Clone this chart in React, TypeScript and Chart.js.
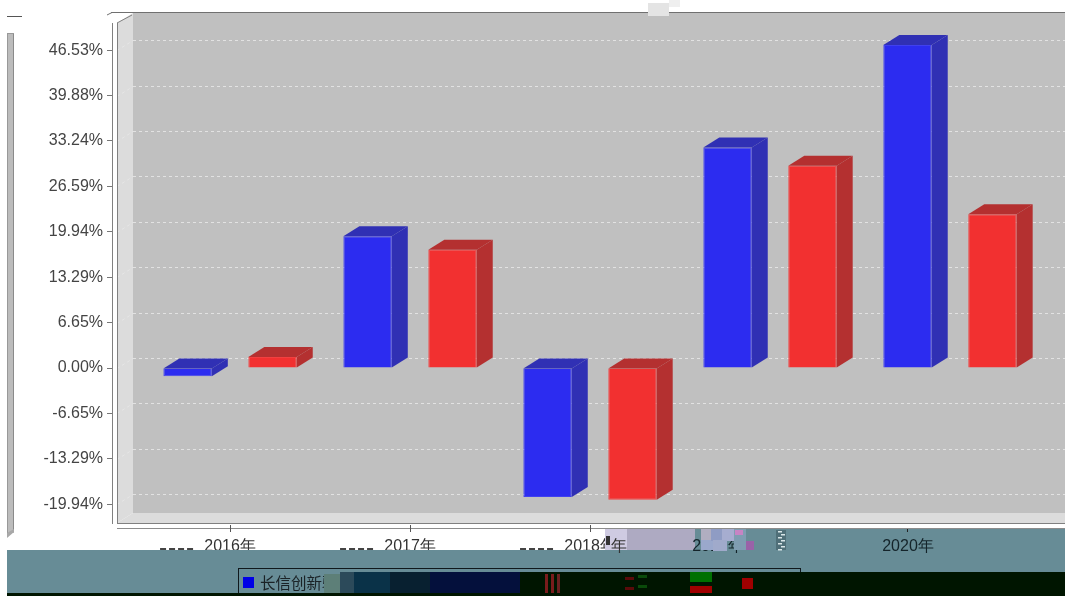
import React, { useEffect, useRef } from "react";
import { Chart, registerables } from "chart.js";

Chart.register(...registerables);

const years = [2016, 2017, 2018, 2019, 2020];
const fundLabel = "长信创新驱动";
const benchLabel = "业绩比较基准";
const fundValues = [-1.2, 19.3, -18.9, 32.3, 47.3];
const benchValues = [1.6, 17.3, -19.3, 29.6, 22.5];
const yTicks = [46.53, 39.88, 33.24, 26.59, 19.94, 13.29, 6.65, 0, -6.65, -13.29, -19.94];

const DX = 16;
const DY = -10;
const FONT = '16px "Liberation Sans", Arial, sans-serif';

function poly(ctx: CanvasRenderingContext2D, pts: number[][], fill: string) {
  ctx.fillStyle = fill;
  ctx.beginPath();
  pts.forEach((p, i) => (i ? ctx.lineTo(p[0], p[1]) : ctx.moveTo(p[0], p[1])));
  ctx.closePath();
  ctx.fill();
}
function rect(ctx: CanvasRenderingContext2D, x: number, y: number, w: number, h: number, c: string) {
  ctx.fillStyle = c;
  ctx.fillRect(x, y, w, h);
}
function seg(ctx: CanvasRenderingContext2D, x1: number, y1: number, x2: number, y2: number, c: string, w = 1) {
  ctx.strokeStyle = c;
  ctx.lineWidth = w;
  ctx.beginPath();
  ctx.moveTo(x1, y1);
  ctx.lineTo(x2, y2);
  ctx.stroke();
}

const box3d = {
  id: "box3d",
  beforeDatasetsDraw(chart: any) {
    const { ctx, chartArea: a, scales } = chart;
    const L = 117;
    const R = a.right;
    const T = a.top;
    const B = a.bottom;
    ctx.save();
    rect(ctx, L + 16, 13, R - L - 16, B - 10 - 13, "#c0c0c0");
    poly(ctx, [[L, T], [L + 16, 13], [L + 16, B - 10], [L, B]], "#dcdcdc");
    poly(ctx, [[L, B], [L + 16, B - 10], [R, B - 10], [R, B]], "#dcdcdc");
    ctx.setLineDash([3, 3]);
    yTicks.forEach((v) => {
      const y = Math.round(scales.y.getPixelForValue(v)) + 0.5;
      seg(ctx, L + 16, y - 10, R, y - 10, "#e2e2e2");
      seg(ctx, L, y, L + 16, y - 10, "#e6e6e6");
    });
    ctx.setLineDash([]);
    seg(ctx, L + 0.5, T, L + 0.5, B, "#808080");
    seg(ctx, L, T, L + 15, 15, "#808080");
    seg(ctx, L, B + 0.5, R, B + 0.5, "#808080");
    seg(ctx, 107, 15, 112, 12.5, "#707070");
    seg(ctx, 111, 12.5, R, 12.5, "#707070");
    ctx.restore();
  },
  afterDatasetsDraw(chart: any) {
    const { ctx } = chart;
    ctx.save();
    chart.data.datasets.forEach((ds: any, i: number) => {
      chart.getDatasetMeta(i).data.forEach((bar: any) => {
        const { x, y, base, width } = bar.getProps(["x", "y", "base", "width"], true);
        const l = x - width / 2;
        const r = x + width / 2;
        const top = Math.min(y, base);
        const bot = Math.max(y, base);
        poly(ctx, [[l, top], [l + DX, top + DY], [r + DX, top + DY], [r, top]], ds.depthColor);
        poly(ctx, [[r, top], [r + DX, top + DY], [r + DX, bot + DY], [r, bot]], ds.depthColor);
      });
    });
    ctx.restore();
  },
  afterDraw(chart: any) {
    const { ctx, chartArea: a, scales } = chart;
    const R = a.right;
    const xs = scales.x;
    ctx.save();
    // left fragment and top fragments
    rect(ctx, 7, 33, 7, 500, "#bcbcbc");
    seg(ctx, 7.5, 33, 7.5, 537, "#999999");
    seg(ctx, 13.5, 33, 13.5, 530, "#8a8a8a");
    seg(ctx, 7, 33.5, 14, 33.5, "#999999");
    poly(ctx, [[7, 533], [14, 529], [14, 532], [7, 538]], "#a8a8a8");
    seg(ctx, 7, 16.5, 22, 16.5, "#555555");
    rect(ctx, 648, 3, 21, 13, "#e4e4e4");
    rect(ctx, 669, 0, 11, 7, "#efefef");

    // x axis
    seg(ctx, 117, 528.5, R, 528.5, "#8c8c8c", 1);

    ctx.font = FONT;
    ctx.textAlign = "center";
    ctx.textBaseline = "alphabetic";
    const label = (v: number) => `${v}年`;
    const ticks = years.map((v) => ({ v, px: xs.getPixelForValue(v) }));

    ticks.slice(0, 3).forEach(({ v, px }) => {
      seg(ctx, Math.round(px) + 0.5, 525, Math.round(px) + 0.5, 532, "#555555");
      ctx.fillStyle = "#333333";
      ctx.fillText(label(v), px, 551);
      for (let d = 0; d < 4; d++) rect(ctx, px - 70 + d * 9, 548, 6, 2, "#444444");
    });

    // teal band
    rect(ctx, 7, 550, R - 7, 46, "#678c96");
    rect(ctx, 605, 529, R - 605, 21, "#678c96");
    rect(ctx, 605, 529, 22, 21, "#cfcbe2");
    rect(ctx, 627, 529, 68, 21, "#aeaac2");
    rect(ctx, 606, 536, 4, 9, "#333333");
    ctx.fillStyle = "#333333";
    ctx.fillText(label(years[2]).slice(-1), 619, 551);

    // labels displaced into the band
    const p19 = xs.getPixelForValue(years[3]);
    const p20 = xs.getPixelForValue(years[4]);
    ctx.fillStyle = "#14242a";
    ctx.fillText(label(years[3]), p19 - 52, 551);
    ctx.fillText(label(years[4]), p20 - 42, 551);
    seg(ctx, p20 - 42.5, 529, p20 - 42.5, 532, "#222222");

    // glitch blocks over the 2019 label
    rect(ctx, 701, 529, 12, 21, "#b0aec0");
    rect(ctx, 701, 540, 12, 10, "#9aa8cc");
    rect(ctx, 711, 529, 11, 12, "#8f9cc4");
    rect(ctx, 722, 529, 12, 12, "#a6add0");
    rect(ctx, 713, 540, 14, 11, "#a0aacb");
    rect(ctx, 734, 529, 12, 21, "#7f9db2");
    rect(ctx, 746, 541, 8, 9, "#9a62a8");
    rect(ctx, 735, 530, 8, 5, "#c784c4");
    rect(ctx, 776, 530, 10, 20, "#4f6f78");
    for (let i = 0; i < 7; i++) rect(ctx, 778 + (i % 2) * 3, 531 + i * 3, 4, 1.5, "#d8e6e8");

    // legend
    ctx.strokeStyle = "#10181c";
    ctx.lineWidth = 1;
    ctx.strokeRect(238.5, 568.5, 562, 30);
    rect(ctx, 243, 577, 11, 11, "#0000e6");
    ctx.save();
    ctx.beginPath();
    ctx.rect(258, 570, 78, 24);
    ctx.clip();
    ctx.textAlign = "left";
    ctx.font = '15.5px "Noto Sans CJK SC", sans-serif';
    ctx.fillStyle = "#1a2226";
    ctx.fillText(chart.data.datasets[0].label, 260, 589);
    ctx.restore();
    rect(ctx, 324, 574, 16, 20, "#5d7f78");
    rect(ctx, 340, 572, 14, 22, "#2c4a5a");
    rect(ctx, 354, 572, 36, 22, "#0a3248");
    rect(ctx, 390, 572, 40, 22, "#082030");
    rect(ctx, 430, 572, 90, 22, "#04103c");
    rect(ctx, 520, 572, R - 520, 24, "#001500");
    rect(ctx, 545, 574, 3, 20, "#7a1c1c");
    rect(ctx, 551, 574, 3, 20, "#7a1c1c");
    rect(ctx, 557, 574, 3, 20, "#6a2020");
    rect(ctx, 625, 577, 9, 3, "#5a0a0a");
    rect(ctx, 625, 587, 9, 3, "#5a0a0a");
    rect(ctx, 638, 575, 9, 3, "#0a4a0a");
    rect(ctx, 638, 585, 9, 3, "#0a4a0a");
    rect(ctx, 690, 572, 22, 10, "#007000");
    rect(ctx, 690, 586, 22, 7, "#a00000");
    rect(ctx, 742, 578, 11, 11, "#a00000");
    rect(ctx, 7, 593, R - 7, 3, "#001500");
    ctx.restore();
  },
};

export default function App() {
  const ref = useRef<HTMLCanvasElement | null>(null);
  useEffect(() => {
    const chart = new Chart(ref.current as HTMLCanvasElement, {
      type: "bar",
      data: {
        datasets: [
          {
            label: fundLabel,
            data: years.map((x, i) => ({ x, y: fundValues[i] })),
            backgroundColor: "#2c2cf0",
            borderColor: "#4040f0",
            borderWidth: 1,
            depthColor: "#3030b4",
          },
          {
            label: benchLabel,
            data: years.map((x, i) => ({ x, y: benchValues[i] })),
            backgroundColor: "#f23030",
            borderColor: "#f24040",
            borderWidth: 1,
            depthColor: "#b43030",
          },
        ] as any,
      },
      options: {
        animation: false,
        responsive: false,
        devicePixelRatio: 1,
        layout: { padding: { top: 23, right: 0, left: 0, bottom: 0 } },
        datasets: { bar: { barPercentage: 0.57, categoryPercentage: 0.944 } },
        plugins: { legend: { display: false }, tooltip: { enabled: false }, title: { display: false } },
        scales: {
          x: {
            type: "linear",
            offset: false,
            min: 2015.344,
            max: 2020.639,
            ticks: { display: false, stepSize: 1, includeBounds: false },
            grid: { display: false },
            border: { display: false },
            afterFit: (s: any) => {
              s.height = 73;
            },
          },
          y: {
            min: -22.69,
            max: 50.51,
            afterBuildTicks: (s: any) => {
              s.ticks = yTicks.map((value) => ({ value }));
            },
            afterFit: (s: any) => {
              s.width = 112;
            },
            ticks: {
              autoSkip: false,
              padding: 4,
              color: "#444444",
              font: { family: '"Liberation Sans", Arial, sans-serif', size: 16 },
              callback: (v: any) => `${Number(v).toFixed(2)}%`,
            },
            grid: { drawOnChartArea: false, drawTicks: true, tickLength: 5, color: "#777777" },
            border: { display: true, color: "#808080" },
          },
        },
      } as any,
      plugins: [box3d],
    });
    return () => chart.destroy();
  }, []);
  return (
    <canvas
      ref={ref}
      width={1065}
      height={596}
      style={{ position: "fixed", left: 0, top: 0, width: 1065, height: 596, display: "block" }}
    />
  );
}
